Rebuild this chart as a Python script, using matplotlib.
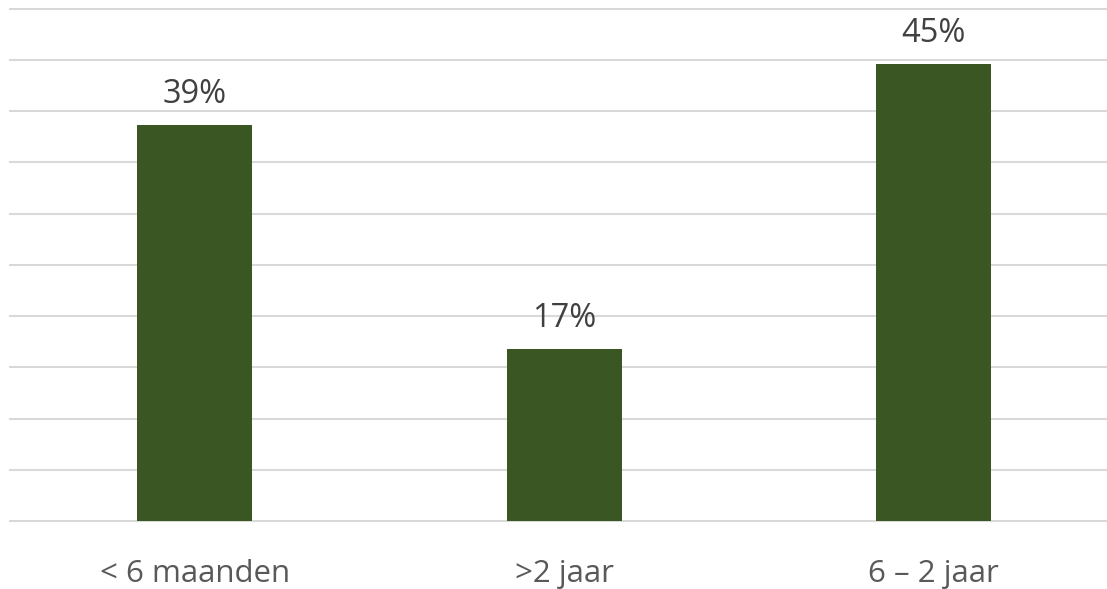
import matplotlib
matplotlib.use("Agg")
import matplotlib.pyplot as plt

categories = ["< 6 maanden", ">2 jaar", "6 – 2 jaar"]
values = [38.6, 16.8, 44.6]
labels = ["39%", "17%", "45%"]

plt.rcParams['font.family'] = ['Open Sans', 'DejaVu Sans']

fig = plt.figure(figsize=(11.07, 5.89), dpi=100)
W, H = 1107, 589
left_px, right_px = 10, 1107
bot_px, top_px = 521, 8.5
ax = fig.add_axes([left_px / W, (H - bot_px) / H, (right_px - left_px) / W, (bot_px - top_px) / H])

x = list(range(len(categories)))
ax.bar(x, values, width=0.312, color="#3A5723", zorder=3)

for xi, v, lab in zip(x, values, labels):
    ax.annotate(lab, (xi, v), xytext=(0, 16), textcoords="offset points",
                ha="center", va="baseline", fontsize=23.5, color="#404040")

spacing = 369.5
ax.set_xlim(-0.5, (right_px - left_px) / spacing - 0.5)
ax.set_ylim(0, 50)
ax.set_yticks(range(0, 51, 5))
ax.yaxis.grid(True, color="#D9D9D9", linewidth=1.5, zorder=0)
for gl in ax.get_ygridlines():
    gl.set_clip_on(False)
ax.set_axisbelow(True)
ax.tick_params(axis="y", left=False, labelleft=False)
ax.set_xticks(x)
ax.set_xticklabels(categories, fontsize=22.5, color="#595959")
ax.tick_params(axis="x", length=0, pad=27.5)
for s in ax.spines.values():
    s.set_visible(False)

fig.savefig("out.png", dpi=100)
